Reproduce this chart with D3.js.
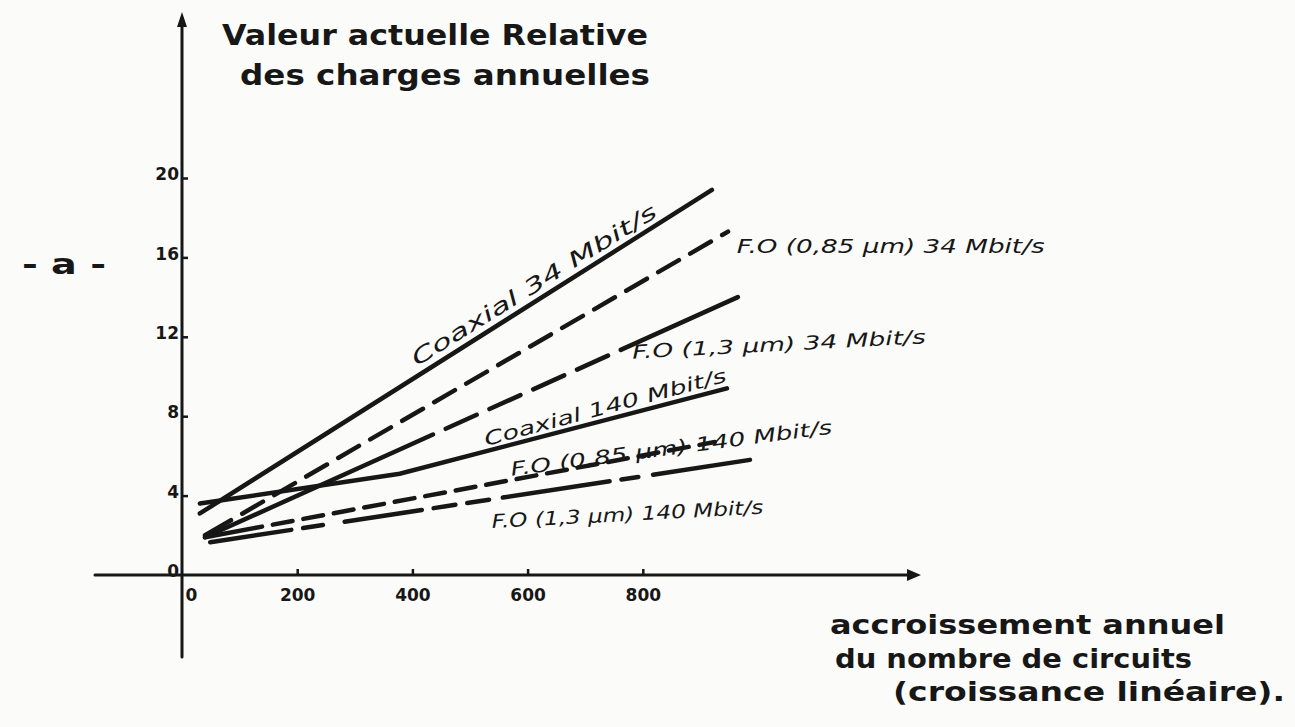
<!DOCTYPE html>
<html>
<head>
  <script src="https://d3js.org/d3.v7.js"></script>
  <style>
    html, body {
      margin: 0px;
      padding: 0px;
      background: #fbfbf9;
    }
    #chart {
      width: 1295px;
      height: 727px;
      position: relative;
    }
    .hand {
      font-family: "DejaVu Sans", sans-serif;
      font-weight: bold;
      fill: #171717;
    }
    .note {
      font-family: "DejaVu Sans", sans-serif;
      font-style: italic;
      fill: #171717;
    }
    .axis text {
      font-family: "DejaVu Sans", sans-serif;
      font-weight: bold;
      font-size: 17px;
      fill: #171717;
    }
    .axis line {
      stroke: #171717;
      stroke-width: 2.5;
    }
  </style>
</head>
<body>
  <div id="chart"></div>
  <script>

    // tick values on both axes
    const xTicks = [0, 200, 400, 600, 800];
    const yTicks = [0, 4, 8, 12, 16, 20];

    // each line as [growth, relative value] points
    const coaxial34  = [[31, 3.1], [920, 19.4]];
    const fo085_34   = [[40, 2.0], [948, 17.3]];
    const fo13_34    = [[40, 1.9], [965, 14.0]];
    const coaxial140 = [[31, 3.6], [378, 5.1], [946, 9.4]];
    const fo085_140  = [[40, 1.9], [925, 6.7]];
    const fo13_140   = [[49, 1.65], [986, 5.8]];

    const seriesNames = [
      "Coaxial 34 Mbit/s",
      "F.O (0,85 µm) 34 Mbit/s",
      "F.O (1,3 µm) 34 Mbit/s",
      "Coaxial 140 Mbit/s",
      "F.O (0,85 µm) 140 Mbit/s",
      "F.O (1,3 µm) 140 Mbit/s"
    ];
    const seriesValues = [coaxial34, fo085_34, fo13_34, coaxial140, fo085_140, fo13_140];

    const yTitle = ["Valeur actuelle Relative", "des charges annuelles"];
    const xTitle = ["accroissement annuel", "du nombre de circuits", "(croissance linéaire)."];
    const figTag = "- a -";

    /*
    SVG CANVAS
    */
    const width = 1295;
    const height = 727;

    const svg = d3.select("#chart")
      .append("svg")
      .attr("width", width)
      .attr("height", height);

    /*
    SCALES
    */
    const xScale = d3.scaleLinear()
      .domain([0, 1000])
      .range([182, 758]);

    const yScale = d3.scaleLinear()
      .domain([0, 20])
      .range([575, 178]);

    /*
    AXES - drawn as long hand lines with arrow heads, ticks from d3 axes
    */
    const ink = "#171717";
    const x0 = xScale(0), y0 = yScale(0);
    const yTop = 12, yBottom = 657;
    const xLeft = 95, xRight = 921;

    svg.append("line")
      .attr("x1", x0).attr("y1", yBottom)
      .attr("x2", x0).attr("y2", yTop + 6)
      .attr("stroke", ink).attr("stroke-width", 3)
      .attr("stroke-linecap", "round");

    svg.append("path")
      .attr("d", `M${x0 - 5},${yTop + 15} L${x0},${yTop} L${x0 + 5},${yTop + 15} Z`)
      .attr("fill", ink);

    svg.append("line")
      .attr("x1", xLeft).attr("y1", y0)
      .attr("x2", xRight - 6).attr("y2", y0)
      .attr("stroke", ink).attr("stroke-width", 3)
      .attr("stroke-linecap", "round");

    svg.append("path")
      .attr("d", `M${xRight - 14},${y0 - 6} L${xRight},${y0} L${xRight - 14},${y0 + 6} Z`)
      .attr("fill", ink);

    const xAxis = svg.append("g")
      .attr("class", "axis")
      .attr("transform", `translate(0,${y0})`)
      .call(d3.axisBottom(xScale).tickValues(xTicks).tickSize(-6).tickPadding(14));

    const yAxis = svg.append("g")
      .attr("class", "axis")
      .attr("transform", `translate(${x0},0)`)
      .call(d3.axisLeft(yScale).tickValues(yTicks).tickSize(-6).tickPadding(3));

    xAxis.select(".domain").remove();
    yAxis.select(".domain").remove();

    // the 0 on the x axis sits to the right of the vertical axis
    xAxis.selectAll(".tick").filter(d => d === 0).select("text").attr("dx", 9);
    xAxis.selectAll(".tick").filter(d => d === 0).select("line").remove();
    yAxis.selectAll(".tick").filter(d => d === 0).select("line").remove();
    yAxis.selectAll(".tick text").attr("dy", "0.1em");

    /*
    LINES
    */
    function dashes(lead, pattern, total) {
      const out = [lead];
      let s = lead, i = 0;
      while (s < total) {
        const v = pattern[i % pattern.length];
        out.push(v);
        s += v;
        i++;
      }
      if (out.length % 2) out.push(400);
      return out.join(",");
    }

    const lineStyles = [
      null,
      dashes(30, [13, 24], 700),
      "250,14,34,14,34,14,34,14,34,14,400",
      null,
      dashes(58, [11, 20], 700),
      "82,12,20,22,78,12,22,12,22,14,108,12,17,15,200"
    ];

    const line = d3.line()
      .x(d => xScale(d[0]))
      .y(d => yScale(d[1]));

    svg.selectAll("path.series")
      .data(seriesValues)
      .enter()
      .append("path")
        .attr("class", "series")
        .attr("d", d => line(d))
        .attr("fill", "none")
        .attr("stroke", ink)
        .attr("stroke-width", 4.5)
        .attr("stroke-linecap", "round")
        .attr("stroke-dasharray", (d, i) => lineStyles[i]);

    /*
    LINE LABELS - anchored in data units, rotated along the lines
    */
    const labelLayout = [
      {x: 408, y: 10.5, angle: -32, len: 285, size: 21},
      {x: 963, y: 16.2, angle: 0,   len: 308, size: 19},
      {x: 782, y: 10.9, angle: -3,  len: 294, size: 19},
      {x: 528, y: 6.5,  angle: -15, len: 250, size: 19},
      {x: 572, y: 5.0,  angle: -7.5, len: 324, size: 19},
      {x: 538, y: 2.37, angle: -3,  len: 272, size: 19}
    ];

    svg.selectAll("text.label")
      .data(seriesNames)
      .enter()
      .append("text")
        .attr("class", "note label")
        .attr("transform", (d, i) => {
          const l = labelLayout[i];
          return `translate(${xScale(l.x)},${yScale(l.y)}) rotate(${l.angle})`;
        })
        .attr("font-size", (d, i) => labelLayout[i].size)
        .attr("textLength", (d, i) => labelLayout[i].len)
        .attr("lengthAdjust", "spacingAndGlyphs")
        .text(d => d);

    /*
    AXIS TITLES
    */
    const yTitleLayout = [
      {x: 222, y: 45, len: 426},
      {x: 240, y: 85, len: 410}
    ];
    svg.selectAll("text.ytitle")
      .data(yTitle)
      .enter()
      .append("text")
        .attr("class", "hand ytitle")
        .attr("x", (d, i) => yTitleLayout[i].x)
        .attr("y", (d, i) => yTitleLayout[i].y)
        .attr("font-size", 28)
        .attr("textLength", (d, i) => yTitleLayout[i].len)
        .attr("lengthAdjust", "spacingAndGlyphs")
        .text(d => d);

    const xTitleLayout = [
      {x: 830, y: 634, len: 395},
      {x: 835, y: 668, len: 357},
      {x: 893, y: 701, len: 392}
    ];
    svg.selectAll("text.xtitle")
      .data(xTitle)
      .enter()
      .append("text")
        .attr("class", "hand xtitle")
        .attr("x", (d, i) => xTitleLayout[i].x)
        .attr("y", (d, i) => xTitleLayout[i].y)
        .attr("font-size", 26)
        .attr("textLength", (d, i) => xTitleLayout[i].len)
        .attr("lengthAdjust", "spacingAndGlyphs")
        .text(d => d);

    svg.append("text")
      .attr("class", "hand")
      .attr("x", 22)
      .attr("y", 274)
      .attr("font-size", 28)
      .attr("textLength", 84)
      .attr("lengthAdjust", "spacingAndGlyphs")
      .text(figTag);

  </script>
</body>
</html>
